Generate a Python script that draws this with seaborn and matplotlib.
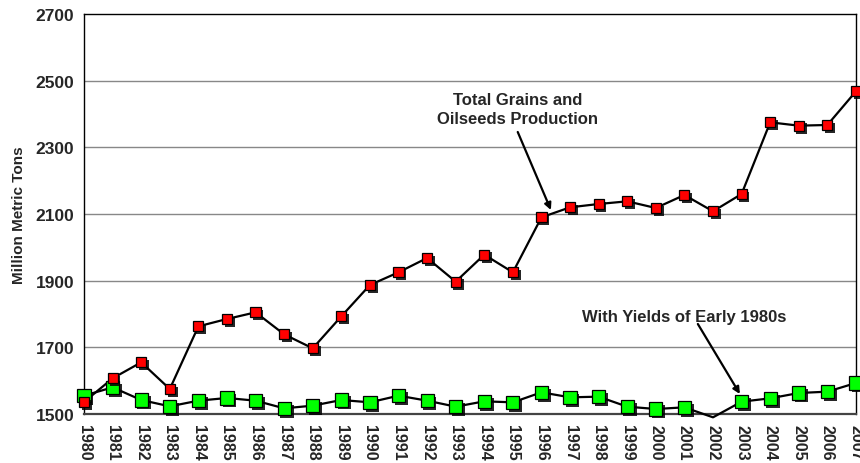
import numpy as np
import pandas as pd
import matplotlib
matplotlib.use('Agg')
import matplotlib.pyplot as plt
import matplotlib.patheffects as pe
import seaborn as sns

# Data (million metric tons)
years = list(range(1980, 2008))
total_production = [1536, 1607, 1655, 1575, 1763, 1785, 1805, 1739, 1697, 1793,
                    1887, 1925, 1968, 1897, 1978, 1925, 2090, 2120, 2130, 2138,
                    2118, 2157, 2108, 2160, 2375, 2365, 2367, 2468]
early_1980s_yields = [1555, 1580, 1542, 1523, 1540, 1548, 1540, 1517, 1525, 1542,
                      1535, 1555, 1540, 1522, 1538, 1535, 1565, 1550, 1552, 1522,
                      1515, 1520, 1490, 1537, 1547, 1563, 1567, 1593]

df = pd.DataFrame({'Year': years, 'Total': total_production, 'Early': early_1980s_yields})

sns.set_style('white')
plt.rcParams['font.family'] = ['Liberation Sans', 'DejaVu Sans']
plt.rcParams['font.weight'] = 'bold'

fig = plt.figure(figsize=(8.6, 4.64), dpi=100)
ax = fig.add_axes([0.0977, 0.1056, 0.8976, 0.8621])

shadow = [pe.withSimplePatchShadow(offset=(2, -2), shadow_rgbFace='black', alpha=0.85)]

# lines
sns.lineplot(data=df, x='Year', y='Early', color='black', linewidth=1.6, ax=ax, clip_on=False, zorder=3)
sns.lineplot(data=df, x='Year', y='Total', color='black', linewidth=1.6, ax=ax, clip_on=False, zorder=4)

# square markers with drop shadow
shown = df[df['Early'] >= 1500]
ax.plot(shown['Year'], shown['Early'], linestyle='none', marker='s', markersize=9.5,
        markerfacecolor='#00ff00', markeredgecolor='black', markeredgewidth=0.9,
        clip_on=False, zorder=5, path_effects=shadow)
ax.plot(df['Year'], df['Total'], linestyle='none', marker='s', markersize=7.3,
        markerfacecolor='#ff0000', markeredgecolor='black', markeredgewidth=0.9,
        clip_on=False, zorder=6, path_effects=shadow)

ax.set_xlim(1980, 2007)
ax.set_ylim(1500, 2700)
ax.set_xticks(years)
ax.set_xticklabels([str(y) for y in years], rotation=-90, fontsize=11.5, fontweight='bold')
ax.set_yticks(range(1500, 2701, 200))
ax.set_yticklabels([str(v) for v in range(1500, 2701, 200)], fontsize=12.5, fontweight='bold')
ax.tick_params(axis='x', direction='inout', length=9, width=1, color='#555555', pad=3)
ax.tick_params(axis='y', direction='out', length=5, width=1, color='black', pad=2)
ax.set_xlabel('')
ax.set_ylabel('Million Metric Tons', fontsize=11, fontweight='bold', labelpad=7)

for v in range(1700, 2600, 200):
    ax.axhline(v, color='#888888', linewidth=1, zorder=1)

for side in ['left', 'top', 'right']:
    ax.spines[side].set_color('black')
    ax.spines[side].set_linewidth(1)
ax.spines['bottom'].set_color('#444444')
ax.spines['bottom'].set_linewidth(1.6)

arrow = dict(arrowstyle='-|>', color='black', lw=1.6, mutation_scale=10, shrinkA=0, shrinkB=0)

ax.text(1995.17, 2415, 'Total Grains and\nOilseeds Production', ha='center', va='center',
        fontsize=12, fontweight='bold', linespacing=1.3)
ax.annotate('', xy=(1996.33, 2112), xytext=(1995.17, 2346), arrowprops=arrow)

ax.text(2000.99, 1791, 'With Yields of Early 1980s', ha='center', va='center',
        fontsize=12, fontweight='bold')
ax.annotate('', xy=(2002.94, 1560), xytext=(2001.47, 1770), arrowprops=arrow)

fig.savefig('out.png', dpi=100)
